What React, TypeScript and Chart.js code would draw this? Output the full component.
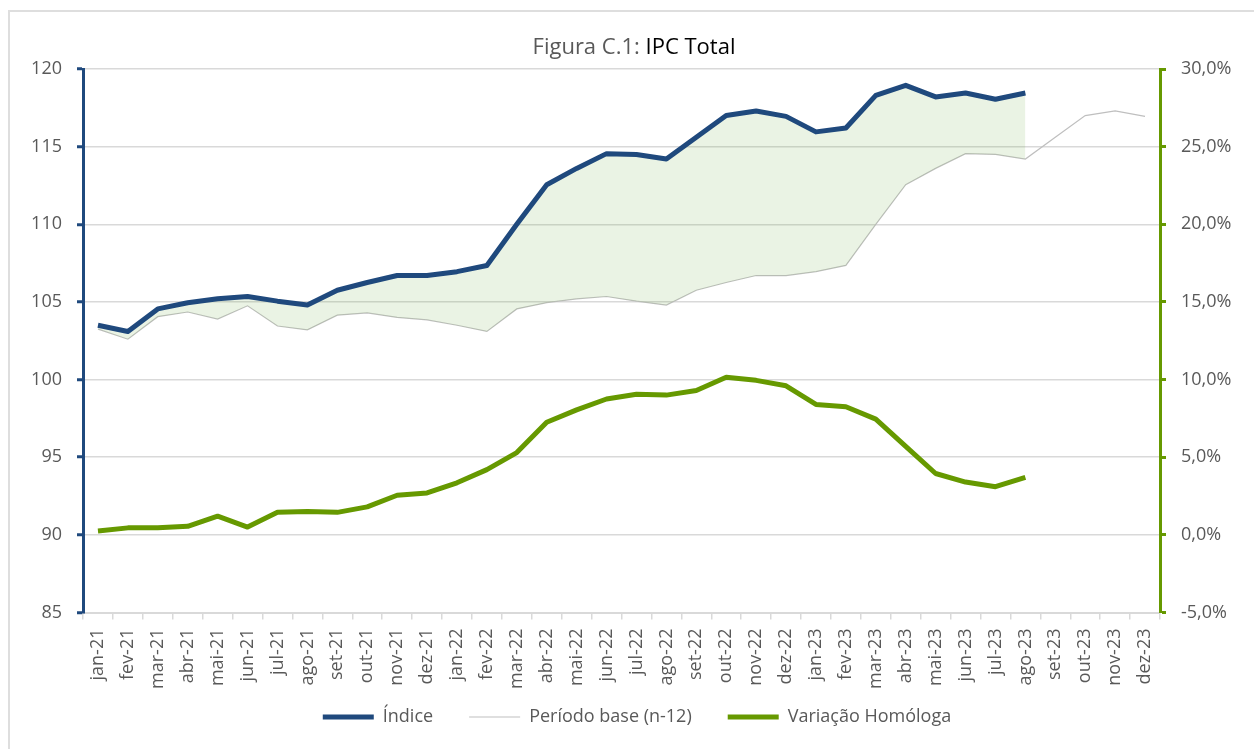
import React, { useEffect, useRef } from "react";
import { Chart, registerables } from "chart.js";

Chart.register(...registerables);

const months = [
  "jan-21", "fev-21", "mar-21", "abr-21", "mai-21", "jun-21", "jul-21", "ago-21", "set-21", "out-21", "nov-21", "dez-21",
  "jan-22", "fev-22", "mar-22", "abr-22", "mai-22", "jun-22", "jul-22", "ago-22", "set-22", "out-22", "nov-22", "dez-22",
  "jan-23", "fev-23", "mar-23", "abr-23", "mai-23", "jun-23", "jul-23", "ago-23", "set-23", "out-23", "nov-23", "dez-23",
];

const indice = [
  103.5, 103.1, 104.55, 104.95, 105.2, 105.35, 105.05, 104.8, 105.75, 106.25, 106.7, 106.7,
  106.95, 107.35, 110.0, 112.55, 113.6, 114.55, 114.5, 114.2, 115.6, 117.0, 117.3, 116.95,
  115.95, 116.2, 118.3, 118.95, 118.2, 118.45, 118.05, 118.45, null, null, null, null,
];

const periodoBase = [
  103.25, 102.6, 104.05, 104.35, 103.9, 104.75, 103.45, 103.2, 104.15, 104.3, 104.0, 103.85,
  103.5, 103.1, 104.55, 104.95, 105.2, 105.35, 105.05, 104.8, 105.75, 106.25, 106.7, 106.7,
  106.95, 107.35, 110.0, 112.55, 113.6, 114.55, 114.5, 114.2, 115.6, 117.0, 117.3, 116.95,
];

const variacao = [
  0.25, 0.45, 0.45, 0.55, 1.2, 0.5, 1.45, 1.5, 1.45, 1.8, 2.55, 2.7,
  3.35, 4.2, 5.3, 7.25, 8.05, 8.75, 9.05, 9.0, 9.3, 10.15, 9.95, 9.6,
  8.4, 8.25, 7.45, 5.7, 3.95, 3.4, 3.1, 3.7, null, null, null, null,
];

const seriesNames = ["Índice", "Período base (n-12)", "Variação Homóloga"];
const leftAxis = { min: 85, max: 120, step: 5 };
const rightAxis = { min: -5, max: 30, step: 5 };

const BLUE = "#1F497D";
const GREEN = "#669900";
const BASE_GRAY = "#BFBFBF";
const FILL = "rgba(112,173,71,0.15)";
const TEXT = "#595959";
const GRID = "#D9D9D9";

const LEGEND_PADDING = 36;
const LEGEND_FONT = 18;
const LEGEND_CENTER_Y = 717;

const legendMover = {
  id: "legendMover",
  afterLayout(chart: any) {
    const lg = chart.legend;
    if (!lg) return;
    const top = LEGEND_CENTER_Y - LEGEND_PADDING - LEGEND_FONT / 2;
    const h = lg.height;
    lg.top = top;
    lg.bottom = top + h;
  },
};

export default function App() {
  const ref = useRef<HTMLCanvasElement | null>(null);

  useEffect(() => {
    if (!ref.current) return;
    Chart.defaults.font.family = "'Open Sans', sans-serif";
    const chart = new Chart(ref.current, {
      type: "line",
      data: {
        labels: months,
        datasets: [
          {
            label: seriesNames[0],
            data: indice,
            borderColor: BLUE,
            backgroundColor: FILL,
            borderWidth: 5,
            pointRadius: 0,
            tension: 0,
            borderJoinStyle: "round",
            yAxisID: "y",
            fill: { target: 1, above: FILL, below: FILL },
          },
          {
            label: seriesNames[1],
            data: periodoBase,
            borderColor: BASE_GRAY,
            backgroundColor: BASE_GRAY,
            borderWidth: 1.2,
            pointRadius: 0,
            tension: 0,
            yAxisID: "y",
            fill: false,
          },
          {
            label: seriesNames[2],
            data: variacao,
            borderColor: GREEN,
            backgroundColor: GREEN,
            borderWidth: 5,
            pointRadius: 0,
            tension: 0,
            borderJoinStyle: "round",
            yAxisID: "y1",
            fill: false,
          },
        ],
      },
      options: {
        responsive: false,
        animation: false,
        devicePixelRatio: 1,
        layout: { padding: { top: 69, left: 0, right: 0, bottom: 0 } },
        plugins: {
          title: { display: false },
          tooltip: { enabled: false },
          legend: {
            position: "bottom",
            labels: {
              color: TEXT,
              font: { size: LEGEND_FONT },
              usePointStyle: true,
              pointStyleWidth: 51,
              padding: LEGEND_PADDING,
              generateLabels: (c: any) =>
                c.data.datasets.map((ds: any, i: number) => ({
                  text: ds.label,
                  strokeStyle: ds.borderColor,
                  fillStyle: ds.borderColor,
                  lineWidth: ds.borderWidth,
                  pointStyle: "line",
                  fontColor: TEXT,
                  hidden: false,
                  datasetIndex: i,
                })),
            },
          },
        },
        scales: {
          x: {
            offset: true,
            border: { color: GRID, width: 2 },
            grid: {
              offset: true,
              drawOnChartArea: false,
              color: GRID,
              lineWidth: 1.5,
              tickLength: 7,
            },
            ticks: {
              autoSkip: false,
              minRotation: 90,
              maxRotation: 90,
              color: TEXT,
              font: { size: 18 },
              padding: 9,
            },
            afterFit: (s: any) => {
              s.height = 103.5;
            },
          },
          y: {
            position: "left",
            min: leftAxis.min,
            max: leftAxis.max,
            border: { color: BLUE, width: 3 },
            grid: {
              color: GRID,
              lineWidth: 1.5,
              tickColor: BLUE,
              tickWidth: 3,
              tickLength: 6,
            },
            ticks: {
              stepSize: leftAxis.step,
              color: TEXT,
              font: { size: 18 },
              padding: 15,
            },
            afterFit: (s: any) => {
              s.width = 83;
            },
          },
          y1: {
            position: "right",
            min: rightAxis.min,
            max: rightAxis.max,
            border: { color: GREEN, width: 3 },
            grid: {
              drawOnChartArea: false,
              tickColor: GREEN,
              tickWidth: 3,
              tickLength: 6,
            },
            ticks: {
              stepSize: rightAxis.step,
              color: TEXT,
              font: { size: 18 },
              padding: 15,
              callback: (v: any) => Number(v).toFixed(1).replace(".", ",") + "%",
            },
            afterFit: (s: any) => {
              s.width = 114;
            },
          },
        },
      },
      plugins: [legendMover],
    });
    return () => chart.destroy();
  }, []);

  return (
    <div
      style={{
        position: "fixed",
        left: 0,
        top: 0,
        width: 1254,
        height: 749,
        overflow: "hidden",
        background: "#fff",
      }}
    >
      <div
        style={{
          position: "absolute",
          left: 8,
          top: 10,
          width: 1300,
          height: 800,
          border: "2px solid #DEDEDE",
        }}
      />
      <canvas
        ref={ref}
        width={1274}
        height={780}
        style={{ position: "absolute", left: 0, top: 0, width: 1274, height: 780 }}
      />
      <div
        style={{
          position: "absolute",
          left: 634,
          top: 31,
          transform: "translateX(-50%)",
          whiteSpace: "nowrap",
          fontFamily: "'Open Sans', sans-serif",
          fontSize: 22,
          lineHeight: "28px",
        }}
      >
        <span style={{ color: TEXT }}>Figura C.1: </span>
        <span style={{ color: "#000" }}>IPC Total</span>
      </div>
    </div>
  );
}
